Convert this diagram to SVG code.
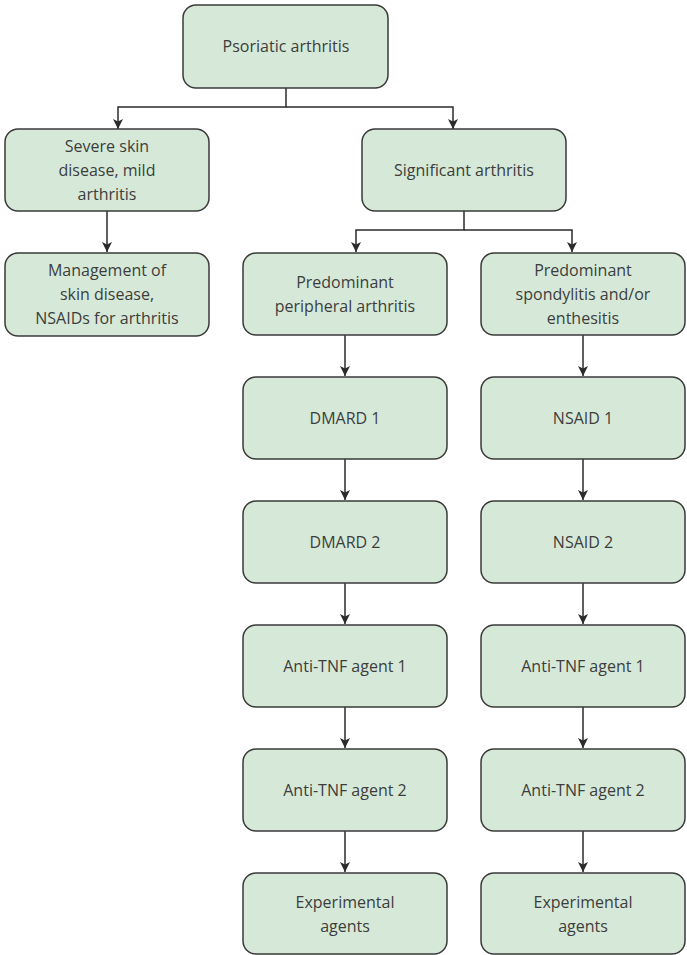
<svg xmlns="http://www.w3.org/2000/svg" width="687" height="955" viewBox="0 0 687 955">
<style>
.box{fill:#d6e9d8;stroke:#3a3a3a;stroke-width:1.5}
.t{font-family:"Open Sans","Liberation Sans",sans-serif;font-size:16px;fill:#3d3d3d;text-anchor:middle}
.c{fill:none;stroke:#2b2b2b;stroke-width:1.5}
</style>
<defs>
<marker id="a" viewBox="0 0 10 12" refX="10" refY="6" markerWidth="10" markerHeight="12" markerUnits="userSpaceOnUse" orient="auto">
<path d="M0,1 L10,6 L0,11 L2.5,6 Z" fill="#2b2b2b"/>
</marker>
</defs>
<rect width="687" height="955" fill="#fff"/>
<g id="connectors">
<path class="c" d="M286,88 V107 H118 V129" marker-end="url(#a)"/>
<path class="c" d="M286,107 H453 V129" marker-end="url(#a)"/>
<path class="c" d="M107,211 V252" marker-end="url(#a)"/>
<path class="c" d="M464,211 V230 H356 V252" marker-end="url(#a)"/>
<path class="c" d="M464,230 H572 V252" marker-end="url(#a)"/>
<path class="c" d="M345,335 V376" marker-end="url(#a)"/>
<path class="c" d="M345,459 V500" marker-end="url(#a)"/>
<path class="c" d="M345,583 V624" marker-end="url(#a)"/>
<path class="c" d="M345,707 V748" marker-end="url(#a)"/>
<path class="c" d="M345,831 V872" marker-end="url(#a)"/>
<path class="c" d="M583,335 V376" marker-end="url(#a)"/>
<path class="c" d="M583,459 V500" marker-end="url(#a)"/>
<path class="c" d="M583,583 V624" marker-end="url(#a)"/>
<path class="c" d="M583,707 V748" marker-end="url(#a)"/>
<path class="c" d="M583,831 V872" marker-end="url(#a)"/>
</g>
<g id="n-psa"><rect class="box" x="183" y="5" width="205" height="83" rx="13"/><text class="t" x="286" y="52">Psoriatic arthritis</text></g>
<g id="n-severe"><rect class="box" x="5" y="129" width="204" height="82" rx="13"/><text class="t" x="107" y="152">Severe skin</text><text class="t" x="107" y="176">disease, mild</text><text class="t" x="107" y="200">arthritis</text></g>
<g id="n-mgmt"><rect class="box" x="5" y="253" width="204" height="83" rx="13"/><text class="t" x="107" y="276">Management of</text><text class="t" x="107" y="300">skin disease,</text><text class="t" x="107" y="324">NSAIDs for arthritis</text></g>
<g id="n-sig"><rect class="box" x="362" y="129" width="204" height="82" rx="13"/><text class="t" x="464" y="176">Significant arthritis</text></g>
<g id="n-periph"><rect class="box" x="243" y="253" width="204" height="82" rx="13"/><text class="t" x="345" y="288">Predominant</text><text class="t" x="345" y="312">peripheral arthritis</text></g>
<g id="n-spond"><rect class="box" x="481" y="253" width="204" height="82" rx="13"/><text class="t" x="583" y="276">Predominant</text><text class="t" x="583" y="300">spondylitis and/or</text><text class="t" x="583" y="324">enthesitis</text></g>
<g id="n-dmard1"><rect class="box" x="243" y="377" width="204" height="82" rx="13"/><text class="t" x="345" y="424">DMARD 1</text></g>
<g id="n-dmard2"><rect class="box" x="243" y="501" width="204" height="82" rx="13"/><text class="t" x="345" y="548">DMARD 2</text></g>
<g id="n-tnf1l"><rect class="box" x="243" y="625" width="204" height="82" rx="13"/><text class="t" x="345" y="672">Anti-TNF agent 1</text></g>
<g id="n-tnf2l"><rect class="box" x="243" y="749" width="204" height="82" rx="13"/><text class="t" x="345" y="796">Anti-TNF agent 2</text></g>
<g id="n-expl"><rect class="box" x="243" y="873" width="204" height="81" rx="13"/><text class="t" x="345" y="908">Experimental</text><text class="t" x="345" y="932">agents</text></g>
<g id="n-nsaid1"><rect class="box" x="481" y="377" width="204" height="82" rx="13"/><text class="t" x="583" y="424">NSAID 1</text></g>
<g id="n-nsaid2"><rect class="box" x="481" y="501" width="204" height="82" rx="13"/><text class="t" x="583" y="548">NSAID 2</text></g>
<g id="n-tnf1r"><rect class="box" x="481" y="625" width="204" height="82" rx="13"/><text class="t" x="583" y="672">Anti-TNF agent 1</text></g>
<g id="n-tnf2r"><rect class="box" x="481" y="749" width="204" height="82" rx="13"/><text class="t" x="583" y="796">Anti-TNF agent 2</text></g>
<g id="n-expr"><rect class="box" x="481" y="873" width="204" height="81" rx="13"/><text class="t" x="583" y="908">Experimental</text><text class="t" x="583" y="932">agents</text></g>
</svg>
